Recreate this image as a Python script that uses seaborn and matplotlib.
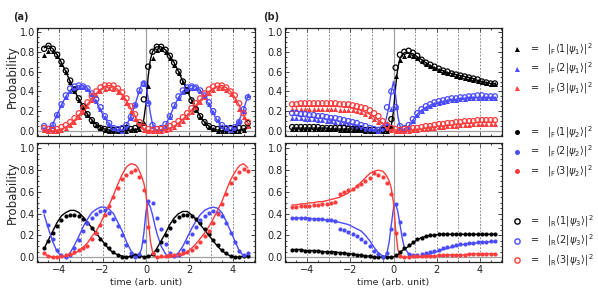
import matplotlib
matplotlib.use("Agg")
import matplotlib.pyplot as plt
from matplotlib.lines import Line2D
from matplotlib.ticker import MultipleLocator, FormatStrFormatter
import seaborn as sns

sns.set_theme(style="ticks")
plt.rcParams.update({
    "font.family": ["DejaVu Sans"],
    "mathtext.fontset": "dejavusans",
    "axes.linewidth": 0.9,
})

# ------------------------------------------------------------------ data
# sample times of the markers and of the drawn curves
t_pts = [-4.7, -4.5, -4.3, -4.1, -3.9, -3.7, -3.5, -3.3, -3.1, -2.9, -2.7, -2.5,
         -2.3, -2.1, -1.9, -1.7, -1.5, -1.3, -1.1, -0.9, -0.7, -0.5, -0.3, -0.1,
         0.1, 0.3, 0.5, 0.7, 0.9, 1.1, 1.3, 1.5, 1.7, 1.9, 2.1, 2.3, 2.5, 2.7,
         2.9, 3.1, 3.3, 3.5, 3.7, 3.9, 4.1, 4.3, 4.5, 4.7]
t_line = [-4.7, -4.5, -4.3, -4.1, -3.9, -3.7, -3.5, -3.3, -3.1, -2.9, -2.7, -2.5,
          -2.3, -2.1, -1.9, -1.7, -1.5, -1.3, -1.1, -0.9, -0.7,
          -0.5, -0.4, -0.3, -0.2, -0.1, 0.0, 0.1, 0.2, 0.3, 0.4, 0.5,
          0.7, 0.9, 1.1, 1.3, 1.5, 1.7, 1.9, 2.1, 2.3, 2.5, 2.7, 2.9, 3.1, 3.3,
          3.5, 3.7, 3.9, 4.1, 4.3, 4.5, 4.7]
grid_t = [-4, -3, -2, -1, 1, 2, 3, 4]

# (a) top: psi_1 (triangles), psi_3 (open circles), theory curves
a1_line_k = [0.84, 0.86, 0.83, 0.77, 0.69, 0.60, 0.50, 0.41, 0.32, 0.24, 0.17, 0.11, 0.07, 0.04, 0.02, 0.01, 0.00, 0.00, 0.00, 0.01, 0.01,
             0.02, 0.02, 0.03, 0.05, 0.12, 0.28, 0.55, 0.72, 0.80, 0.84, 0.85,
             0.85, 0.82, 0.76, 0.69, 0.60, 0.50, 0.41, 0.31, 0.22, 0.15, 0.09, 0.05, 0.02, 0.01, 0.00, 0.00, 0.00, 0.00, 0.01, 0.02, 0.04]
a1_line_b = [0.03, 0.01, 0.07, 0.17, 0.26, 0.35, 0.41, 0.44, 0.46, 0.46, 0.43, 0.37, 0.30, 0.21, 0.13, 0.07, 0.03, 0.01, 0.01, 0.06, 0.15,
             0.27, 0.34, 0.41, 0.47, 0.50, 0.46, 0.33, 0.18, 0.07, 0.02, 0.01,
             0.01, 0.06, 0.15, 0.25, 0.34, 0.40, 0.44, 0.46, 0.45, 0.41, 0.35, 0.27, 0.18, 0.10, 0.04, 0.01, 0.01, 0.04, 0.11, 0.22, 0.35]
a1_line_r = [0.02, 0.01, 0.00, 0.01, 0.02, 0.04, 0.07, 0.11, 0.16, 0.21, 0.27, 0.33, 0.38, 0.42, 0.45, 0.46, 0.45, 0.42, 0.37, 0.31, 0.23,
             0.15, 0.11, 0.08, 0.05, 0.02, 0.01, 0.00, 0.00, 0.00, 0.00, 0.00,
             0.01, 0.02, 0.03, 0.05, 0.08, 0.12, 0.16, 0.21, 0.26, 0.31, 0.36, 0.40, 0.43, 0.45, 0.46, 0.44, 0.40, 0.34, 0.26, 0.17, 0.08]
a1_tri_k = [0.77, 0.81, 0.81, 0.76, 0.68, 0.60, 0.50, 0.40, 0.31, 0.23, 0.16, 0.10, 0.06, 0.03, 0.01, 0.00, 0.00, 0.00, 0.00, 0.00, 0.01, 0.01, 0.02, 0.08,
            0.45, 0.74, 0.82, 0.83, 0.80, 0.74, 0.67, 0.59, 0.49, 0.40, 0.30, 0.21, 0.14, 0.08, 0.04, 0.02, 0.00, 0.00, 0.00, 0.00, 0.00, 0.00, 0.01, 0.06]
a1_tri_b = [0.02, 0.00, 0.05, 0.16, 0.26, 0.34, 0.40, 0.43, 0.44, 0.44, 0.42, 0.37, 0.30, 0.22, 0.14, 0.07, 0.03, 0.01, 0.00, 0.04, 0.13, 0.27, 0.40, 0.47,
            0.30, 0.05, 0.00, 0.00, 0.05, 0.14, 0.25, 0.33, 0.39, 0.42, 0.43, 0.43, 0.40, 0.35, 0.27, 0.19, 0.11, 0.05, 0.02, 0.01, 0.03, 0.10, 0.20, 0.36]
a1_tri_r = [0.01, 0.00, 0.00, 0.00, 0.01, 0.03, 0.06, 0.09, 0.14, 0.19, 0.25, 0.31, 0.36, 0.40, 0.42, 0.43, 0.42, 0.39, 0.34, 0.28, 0.20, 0.12, 0.06, 0.01,
            0.00, 0.00, 0.00, 0.00, 0.01, 0.02, 0.04, 0.07, 0.10, 0.14, 0.19, 0.24, 0.29, 0.34, 0.38, 0.41, 0.43, 0.43, 0.41, 0.37, 0.31, 0.22, 0.14, 0.05]
a1_circ_k = [0.83, 0.86, 0.83, 0.77, 0.70, 0.61, 0.51, 0.42, 0.33, 0.25, 0.17, 0.11, 0.06, 0.03, 0.02, 0.01, 0.01, 0.01, 0.02, 0.03, 0.02, 0.03, 0.06, 0.32,
             0.65, 0.80, 0.85, 0.85, 0.82, 0.76, 0.69, 0.60, 0.50, 0.41, 0.31, 0.22, 0.15, 0.09, 0.05, 0.03, 0.02, 0.02, 0.02, 0.03, 0.02, 0.03, 0.03, 0.08]
a1_circ_b = [0.05, 0.02, 0.06, 0.16, 0.27, 0.36, 0.43, 0.45, 0.46, 0.45, 0.43, 0.38, 0.32, 0.24, 0.15, 0.08, 0.03, 0.02, 0.03, 0.06, 0.14, 0.26, 0.41, 0.48,
             0.28, 0.06, 0.02, 0.03, 0.07, 0.15, 0.26, 0.35, 0.41, 0.44, 0.45, 0.44, 0.41, 0.36, 0.29, 0.20, 0.12, 0.06, 0.03, 0.02, 0.04, 0.09, 0.22, 0.34]
a1_circ_r = [0.03, 0.02, 0.01, 0.02, 0.04, 0.06, 0.09, 0.13, 0.18, 0.23, 0.29, 0.35, 0.40, 0.44, 0.46, 0.46, 0.46, 0.43, 0.39, 0.33, 0.25, 0.17, 0.09, 0.04,
             0.02, 0.01, 0.02, 0.02, 0.03, 0.05, 0.07, 0.10, 0.14, 0.18, 0.23, 0.28, 0.33, 0.38, 0.42, 0.45, 0.46, 0.46, 0.44, 0.40, 0.36, 0.28, 0.18, 0.09]

# (a) bottom: psi_2 (filled dots)
a2_line_k = [0.08, 0.16, 0.24, 0.32, 0.38, 0.41, 0.43, 0.43, 0.41, 0.37, 0.32, 0.27, 0.22, 0.17, 0.12, 0.07, 0.04, 0.02, 0.01, 0.00, 0.01,
             0.02, 0.02, 0.01, 0.01, 0.00, 0.00, 0.01, 0.01, 0.03, 0.05, 0.08,
             0.15, 0.22, 0.30, 0.36, 0.40, 0.42, 0.42, 0.39, 0.35, 0.30, 0.25, 0.20, 0.15, 0.10, 0.06, 0.03, 0.01, 0.00, 0.00, 0.01, 0.01]
a2_line_b = [0.39, 0.26, 0.14, 0.05, 0.01, 0.00, 0.04, 0.11, 0.19, 0.28, 0.35, 0.41, 0.44, 0.46, 0.46, 0.44, 0.40, 0.32, 0.24, 0.14, 0.06,
             0.01, 0.00, 0.03, 0.08, 0.22, 0.42, 0.50, 0.46, 0.39, 0.30, 0.22,
             0.10, 0.03, 0.00, 0.01, 0.04, 0.10, 0.18, 0.26, 0.33, 0.39, 0.43, 0.45, 0.46, 0.45, 0.41, 0.33, 0.24, 0.15, 0.06, 0.01, 0.01]
a2_line_r = [0.03, 0.01, 0.00, 0.00, 0.00, 0.01, 0.02, 0.03, 0.06, 0.09, 0.13, 0.19, 0.24, 0.31, 0.40, 0.48, 0.57, 0.67, 0.76, 0.83, 0.86,
             0.85, 0.83, 0.79, 0.74, 0.68, 0.58, 0.36, 0.15, 0.05, 0.01, 0.00,
             0.00, 0.00, 0.00, 0.00, 0.01, 0.02, 0.05, 0.08, 0.12, 0.17, 0.22, 0.28, 0.35, 0.43, 0.51, 0.61, 0.71, 0.78, 0.84, 0.86, 0.82]
a2_dot_k = [0.08, 0.15, 0.22, 0.29, 0.34, 0.38, 0.39, 0.39, 0.38, 0.35, 0.31, 0.27, 0.22, 0.17, 0.12, 0.08, 0.05, 0.02, 0.00, 0.00, 0.01, 0.02, 0.01, 0.00,
            0.01, 0.03, 0.07, 0.14, 0.20, 0.27, 0.33, 0.37, 0.39, 0.39, 0.38, 0.35, 0.31, 0.26, 0.21, 0.16, 0.11, 0.07, 0.04, 0.01, 0.00, 0.00, 0.01, 0.01]
a2_dot_b = [0.42, 0.30, 0.17, 0.07, 0.02, 0.00, 0.02, 0.08, 0.16, 0.24, 0.31, 0.36, 0.40, 0.42, 0.43, 0.41, 0.35, 0.29, 0.20, 0.11, 0.04, 0.00, 0.03, 0.15,
            0.52, 0.50, 0.36, 0.26, 0.12, 0.04, 0.01, 0.02, 0.07, 0.14, 0.21, 0.28, 0.34, 0.38, 0.41, 0.42, 0.41, 0.38, 0.31, 0.22, 0.14, 0.06, 0.02, 0.04]
a2_dot_r = [0.04, 0.01, 0.00, 0.00, 0.01, 0.02, 0.03, 0.05, 0.07, 0.08, 0.10, 0.17, 0.22, 0.30, 0.39, 0.47, 0.55, 0.64, 0.72, 0.76, 0.78, 0.80, 0.74, 0.62,
            0.28, 0.04, 0.00, 0.01, 0.01, 0.02, 0.02, 0.03, 0.04, 0.05, 0.07, 0.09, 0.14, 0.19, 0.24, 0.31, 0.40, 0.49, 0.58, 0.68, 0.73, 0.78, 0.81, 0.79]

# (b) top
b1_line_k = [0.03, 0.03, 0.03, 0.03, 0.03, 0.03, 0.03, 0.03, 0.03, 0.02, 0.02, 0.02, 0.02, 0.02, 0.02, 0.01, 0.01, 0.01, 0.01, 0.00, 0.00,
             0.00, 0.00, 0.00, 0.02, 0.06, 0.20, 0.45, 0.64, 0.73, 0.77, 0.79,
             0.79, 0.78, 0.75, 0.72, 0.69, 0.66, 0.64, 0.62, 0.61, 0.59, 0.58, 0.57, 0.56, 0.55, 0.54, 0.53, 0.51, 0.50, 0.49, 0.48, 0.48]
b1_line_b = [0.16, 0.16, 0.15, 0.15, 0.14, 0.14, 0.13, 0.13, 0.12, 0.12, 0.11, 0.10, 0.09, 0.08, 0.07, 0.06, 0.05, 0.03, 0.02, 0.01, 0.01,
             0.03, 0.07, 0.16, 0.26, 0.40, 0.50, 0.36, 0.15, 0.05, 0.02, 0.02,
             0.05, 0.11, 0.17, 0.21, 0.24, 0.26, 0.28, 0.29, 0.30, 0.31, 0.32, 0.32, 0.33, 0.33, 0.34, 0.34, 0.34, 0.34, 0.34, 0.34, 0.34]
b1_line_r = [0.25, 0.25, 0.25, 0.25, 0.25, 0.25, 0.25, 0.25, 0.25, 0.25, 0.25, 0.25, 0.24, 0.24, 0.23, 0.22, 0.21, 0.19, 0.17, 0.14, 0.11,
             0.08, 0.06, 0.04, 0.03, 0.02, 0.01, 0.01, 0.01, 0.00, 0.00, 0.00,
             0.01, 0.01, 0.02, 0.02, 0.03, 0.04, 0.04, 0.05, 0.05, 0.06, 0.06, 0.07, 0.07, 0.08, 0.08, 0.08, 0.09, 0.09, 0.09, 0.09, 0.09]
b1_tri_k = [0.02, 0.02, 0.02, 0.02, 0.02, 0.02, 0.02, 0.02, 0.02, 0.02, 0.02, 0.01, 0.01, 0.01, 0.01, 0.01, 0.01, 0.00, 0.00, 0.00, 0.00, 0.00, 0.00, 0.05,
            0.56, 0.72, 0.76, 0.77, 0.76, 0.74, 0.71, 0.68, 0.66, 0.64, 0.62, 0.60, 0.59, 0.58, 0.56, 0.55, 0.54, 0.53, 0.52, 0.51, 0.50, 0.48, 0.47, 0.47]
b1_tri_b = [0.13, 0.13, 0.13, 0.12, 0.12, 0.12, 0.11, 0.11, 0.10, 0.10, 0.09, 0.08, 0.08, 0.07, 0.06, 0.05, 0.04, 0.02, 0.01, 0.01, 0.00, 0.02, 0.08, 0.22,
            0.24, 0.03, 0.01, 0.04, 0.10, 0.16, 0.20, 0.23, 0.25, 0.27, 0.28, 0.29, 0.30, 0.31, 0.31, 0.32, 0.32, 0.33, 0.33, 0.33, 0.33, 0.33, 0.33, 0.33]
b1_tri_r = [0.22, 0.22, 0.22, 0.22, 0.22, 0.22, 0.22, 0.22, 0.22, 0.22, 0.22, 0.21, 0.21, 0.21, 0.21, 0.20, 0.19, 0.17, 0.15, 0.12, 0.09, 0.06, 0.03, 0.01,
            0.00, 0.00, 0.00, 0.00, 0.01, 0.01, 0.02, 0.02, 0.03, 0.03, 0.04, 0.04, 0.05, 0.05, 0.05, 0.06, 0.06, 0.06, 0.07, 0.07, 0.07, 0.07, 0.07, 0.07]
b1_circ_k = [0.04, 0.04, 0.04, 0.04, 0.04, 0.04, 0.04, 0.03, 0.03, 0.03, 0.03, 0.03, 0.03, 0.02, 0.02, 0.02, 0.02, 0.01, 0.01, 0.01, 0.01, 0.01, 0.02, 0.12,
             0.64, 0.77, 0.80, 0.81, 0.79, 0.76, 0.72, 0.69, 0.67, 0.65, 0.63, 0.61, 0.60, 0.58, 0.57, 0.56, 0.55, 0.54, 0.53, 0.52, 0.50, 0.49, 0.48, 0.48]
b1_circ_b = [0.18, 0.18, 0.17, 0.17, 0.16, 0.16, 0.15, 0.15, 0.14, 0.13, 0.13, 0.12, 0.11, 0.10, 0.09, 0.08, 0.06, 0.05, 0.03, 0.02, 0.01, 0.03, 0.24, 0.40,
             0.24, 0.05, 0.03, 0.06, 0.12, 0.18, 0.22, 0.25, 0.27, 0.29, 0.30, 0.31, 0.32, 0.33, 0.33, 0.34, 0.34, 0.35, 0.35, 0.36, 0.36, 0.35, 0.35, 0.35]
b1_circ_r = [0.27, 0.27, 0.28, 0.28, 0.28, 0.28, 0.28, 0.28, 0.28, 0.28, 0.28, 0.27, 0.27, 0.27, 0.26, 0.25, 0.24, 0.23, 0.21, 0.18, 0.15, 0.10, 0.06, 0.03,
             0.02, 0.01, 0.02, 0.02, 0.03, 0.03, 0.04, 0.05, 0.05, 0.06, 0.07, 0.07, 0.08, 0.08, 0.09, 0.09, 0.10, 0.10, 0.10, 0.11, 0.11, 0.11, 0.11, 0.11]

# (b) bottom
b2_line_k = [0.07, 0.07, 0.07, 0.06, 0.06, 0.06, 0.06, 0.05, 0.05, 0.05, 0.05, 0.04, 0.04, 0.03, 0.03, 0.02, 0.02, 0.01, 0.01, 0.00, 0.00,
             0.00, 0.00, 0.00, 0.00, 0.00, 0.00, 0.01, 0.02, 0.04, 0.06, 0.07,
             0.10, 0.13, 0.16, 0.18, 0.19, 0.20, 0.20, 0.21, 0.21, 0.21, 0.21, 0.21, 0.21, 0.21, 0.21, 0.21, 0.21, 0.21, 0.21, 0.21, 0.21]
b2_line_b = [0.36, 0.36, 0.36, 0.36, 0.36, 0.35, 0.35, 0.35, 0.34, 0.34, 0.33, 0.32, 0.31, 0.30, 0.28, 0.26, 0.24, 0.20, 0.15, 0.09, 0.04,
             0.01, 0.00, 0.04, 0.14, 0.30, 0.45, 0.49, 0.42, 0.30, 0.18, 0.09,
             0.03, 0.01, 0.00, 0.01, 0.02, 0.03, 0.04, 0.06, 0.07, 0.08, 0.09, 0.10, 0.11, 0.12, 0.12, 0.13, 0.13, 0.14, 0.14, 0.14, 0.14]
b2_line_r = [0.48, 0.48, 0.49, 0.49, 0.50, 0.50, 0.51, 0.51, 0.52, 0.53, 0.54, 0.55, 0.57, 0.59, 0.62, 0.65, 0.69, 0.73, 0.77, 0.79, 0.80,
             0.79, 0.77, 0.74, 0.70, 0.63, 0.50, 0.25, 0.07, 0.02, 0.00, 0.00,
             0.00, 0.00, 0.00, 0.00, 0.01, 0.01, 0.01, 0.01, 0.01, 0.02, 0.02, 0.02, 0.02, 0.02, 0.03, 0.03, 0.03, 0.03, 0.03, 0.03, 0.03]
b2_dot_k = [0.07, 0.07, 0.07, 0.06, 0.06, 0.06, 0.06, 0.05, 0.05, 0.05, 0.04, 0.04, 0.04, 0.03, 0.03, 0.02, 0.02, 0.01, 0.01, 0.00, 0.00, 0.00, 0.00, 0.00,
            0.02, 0.05, 0.08, 0.11, 0.14, 0.17, 0.18, 0.19, 0.20, 0.20, 0.21, 0.21, 0.21, 0.21, 0.21, 0.21, 0.21, 0.21, 0.21, 0.21, 0.21, 0.21, 0.21, 0.21]
b2_dot_b = [0.36, 0.36, 0.36, 0.36, 0.35, 0.35, 0.35, 0.35, 0.34, 0.34, 0.33, 0.26, 0.25, 0.23, 0.21, 0.19, 0.17, 0.14, 0.10, 0.06, 0.03, 0.00, 0.04, 0.26,
            0.49, 0.32, 0.21, 0.03, 0.02, 0.02, 0.03, 0.04, 0.05, 0.06, 0.07, 0.08, 0.09, 0.10, 0.11, 0.12, 0.12, 0.13, 0.13, 0.14, 0.14, 0.14, 0.15, 0.15]
b2_dot_r = [0.46, 0.46, 0.47, 0.47, 0.47, 0.48, 0.48, 0.49, 0.49, 0.50, 0.51, 0.58, 0.60, 0.62, 0.63, 0.65, 0.67, 0.70, 0.73, 0.77, 0.76, 0.74, 0.68, 0.58,
            0.22, 0.01, 0.00, 0.00, 0.01, 0.01, 0.01, 0.01, 0.01, 0.01, 0.02, 0.02, 0.02, 0.02, 0.02, 0.02, 0.02, 0.03, 0.03, 0.03, 0.03, 0.03, 0.03, 0.03]

K, B, R = "black", "#4a4aff", "#ff3b3b"
COLORS = [K, B, R]

# ------------------------------------------------------------------ figure
fig = plt.figure(figsize=(5.98, 3.03), dpi=100)
W, H = 598, 303
ax_a1 = fig.add_axes([37 / W, 1 - 136 / H, 218 / W, 108 / H])
ax_a2 = fig.add_axes([37 / W, 1 - 262 / H, 218 / W, 119 / H])
ax_b1 = fig.add_axes([285 / W, 1 - 136 / H, 217 / W, 108 / H])
ax_b2 = fig.add_axes([285 / W, 1 - 262 / H, 217 / W, 119 / H])


def curves(ax, ys):
    for y, c in zip(ys, COLORS):
        sns.lineplot(x=t_line, y=y, ax=ax, color=c, lw=1.0, estimator=None, zorder=2)


def tris(ax, ys):
    for y, c in zip(ys, COLORS):
        sns.scatterplot(x=t_pts, y=y, ax=ax, marker="^", color=c, s=13, linewidth=0, zorder=3)


def circs(ax, ys):
    for y, c in zip(ys, COLORS):
        sns.scatterplot(x=t_pts, y=y, ax=ax, marker="o", color=c, facecolor="none",
                        edgecolor=c, s=14, linewidth=0.9, zorder=4)


def dots(ax, ys):
    for y, c in zip(ys, COLORS):
        sns.scatterplot(x=t_pts, y=y, ax=ax, marker="o", color=c, s=9, linewidth=0, zorder=3)


def style(ax, ylim, bottom):
    ax.set_xlim(-5.03, 5.03)
    ax.set_ylim(*ylim)
    for g in grid_t:
        ax.axvline(g, color="#7a7a7a", lw=0.6, ls=(0, (2.2, 1.8)), zorder=1)
    ax.axvline(0, color="#a0a0a0", lw=0.9, zorder=1)
    ax.axhline(0, color="#a0a0a0", lw=0.9, zorder=1)
    ax.xaxis.set_major_locator(MultipleLocator(2))
    ax.xaxis.set_minor_locator(MultipleLocator(0.5))
    ax.yaxis.set_major_locator(MultipleLocator(0.2))
    ax.yaxis.set_minor_locator(MultipleLocator(0.05))
    ax.yaxis.set_major_formatter(FormatStrFormatter("%.1f"))
    ax.tick_params(which="both", direction="in", top=True, right=True, width=0.6,
                   labelsize=7, colors="#222222")
    ax.tick_params(which="major", length=3)
    ax.tick_params(which="minor", length=1.5)
    ax.tick_params(axis="y", pad=1.5)
    ax.tick_params(axis="x", pad=2.5)
    ax.tick_params(labelbottom=bottom)
    for s in ax.spines.values():
        s.set_linewidth(0.9)
        s.set_color("#222222")
    ax.set_xlabel("")
    ax.set_ylabel("")
    if bottom:
        ax.set_xlabel("time (arb. unit)", fontsize=6.8, labelpad=2)


curves(ax_a1, [a1_line_k, a1_line_b, a1_line_r])
tris(ax_a1, [a1_tri_k, a1_tri_b, a1_tri_r])
circs(ax_a1, [a1_circ_k, a1_circ_b, a1_circ_r])

curves(ax_a2, [a2_line_k, a2_line_b, a2_line_r])
dots(ax_a2, [a2_dot_k, a2_dot_b, a2_dot_r])

curves(ax_b1, [b1_line_k, b1_line_b, b1_line_r])
tris(ax_b1, [b1_tri_k, b1_tri_b, b1_tri_r])
circs(ax_b1, [b1_circ_k, b1_circ_b, b1_circ_r])

curves(ax_b2, [b2_line_k, b2_line_b, b2_line_r])
dots(ax_b2, [b2_dot_k, b2_dot_b, b2_dot_r])

style(ax_a1, (-0.05, 1.04), False)
style(ax_b1, (-0.05, 1.04), False)
style(ax_a2, (-0.045, 1.05), True)
style(ax_b2, (-0.045, 1.05), True)

for ax, yc in [(ax_a1, 0.55), (ax_a2, 0.58)]:
    ax.set_ylabel("Probability", fontsize=8.5)
    ax.yaxis.set_label_coords(-0.081, yc)

fig.text(13 / W, 1 - 17 / H, "(a)", fontsize=7, fontweight="bold", va="center")
fig.text(263 / W, 1 - 17 / H, "(b)", fontsize=7, fontweight="bold", va="center")

# ------------------------------------------------------------------ legends
def handles(marker, filled):
    out = []
    for c in COLORS:
        if filled:
            out.append(Line2D([], [], ls="none", marker=marker, color=c, markersize=3.6, mew=0))
        else:
            out.append(Line2D([], [], ls="none", marker=marker, mfc="none", mec=c,
                              markersize=3.8, mew=1.0))
    return out


def labels(basis, psi):
    return [r"=   $|_{\mathrm{%s}}\langle %d|\psi_%d\rangle|^{\,2}$" % (basis, n, psi)
            for n in (1, 2, 3)]


for mk, filled, basis, psi, ytop in [("^", True, "F", 1, 41), ("o", True, "F", 2, 124),
                                     ("o", False, "R", 3, 213)]:
    leg = fig.legend(handles(mk, filled), labels(basis, psi), loc="upper left",
                     bbox_to_anchor=(513 / W, 1 - ytop / H), frameon=False, fontsize=7,
                     handlelength=0.8, handletextpad=0.9, labelspacing=0.4,
                     borderpad=0, borderaxespad=0)
    for txt in leg.get_texts():
        txt.set_color("#222222")

fig.savefig("out.png", dpi=100)
